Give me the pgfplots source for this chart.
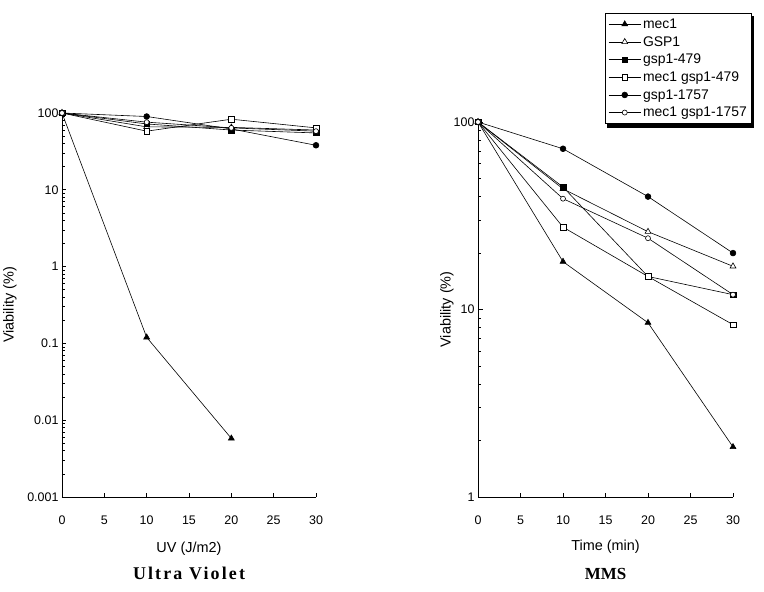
\documentclass[border=0pt]{standalone}
\usepackage{fontspec}
\setmainfont{Liberation Sans}
\newfontfamily\titlefont{Liberation Serif}
\newfontfamily\titlefontwide[LetterSpace=12]{Liberation Serif}
\usepackage{pgfplots}
\pgfplotsset{compat=1.18}

\pgfplotsset{
  legend image code/.code={
    \draw[mark repeat=2, mark phase=2, #1] plot coordinates {(0bp,0bp) (16bp,0bp) (32bp,0bp)};
  },
  viab/.style={
    scale only axis,
    axis lines=left,
    axis line style={-, line width=0.9bp},
    tick style={black, line width=0.7bp},
    tick align=inside,
    major tick length=4.5bp,
    minor tick length=3bp,
    xmin=0, xmax=30,
    xtick={0,5,...,30},
    /pgf/number format/assume math mode=true,
    tick label style={font=\fontsize{12.5}{14}\selectfont},
    xticklabel style={yshift=-15bp},
    label style={font=\fontsize{14.5}{16}\selectfont},
    ylabel={Viability (\%)},
    every axis plot/.append style={black, line width=0.6bp},
  },
  s1/.style={mark=triangle*, mark size=3.4bp, mark options={fill=black, solid}},
  s2/.style={mark=triangle*, mark size=3.4bp, mark options={fill=white, solid}},
  s3/.style={mark=square*, mark size=2.8bp, mark options={fill=black, solid}},
  s4/.style={mark=square*, mark size=2.8bp, mark options={fill=white, solid}},
  s5/.style={mark=*, mark size=2.9bp, mark options={fill=black, solid}},
  s6/.style={mark=*, mark size=2.5bp, mark options={fill=white, solid}},
}

\begin{document}
\begin{tikzpicture}
\useasboundingbox (0,0) rectangle (764bp,592bp);

% UV panel
\begin{semilogyaxis}[
  viab,
  at={(62bp,95bp)}, anchor=south west,
  width=254bp, height=384bp,
  ymin=0.001, ymax=100,
  ytick={0.001,0.01,0.1,1,10,100},
  yticklabels={0.001,0.01,0.1,1,10,100},
  minor ytick={0.002,0.003,0.004,0.005,0.006,0.007,0.008,0.009,
               0.02,0.03,0.04,0.05,0.06,0.07,0.08,0.09,
               0.2,0.3,0.4,0.5,0.6,0.7,0.8,0.9,
               2,3,4,5,6,7,8,9,20,30,40,50,60,70,80,90},
  xlabel={UV (J/m2)},
  xlabel style={at={(axis description cs:0.5,-0.135)}, anchor=center},
  ylabel style={at={(axis description cs:-0.205,0.5)}, anchor=center},
  title={\titlefontwide\bfseries Ultra Violet},
  title style={at={(axis description cs:0.5,-0.214)}, anchor=center, font=\fontsize{18}{20}\selectfont},
  clip=false,
]
\addplot[s1] coordinates {(0,100) (10,0.12) (20,0.0058)};
\addplot[s2] coordinates {(0,100) (10,66) (20,65) (30,60)};
\addplot[s3] coordinates {(0,100) (10,72) (20,60) (30,55)};
\addplot[s4] coordinates {(0,100) (10,58) (20,83) (30,64)};
\addplot[s5] coordinates {(0,100) (10,90) (20,62) (30,38)};
\addplot[s6] coordinates {(0,100) (10,76) (20,64) (30,58)};
\end{semilogyaxis}

% MMS panel
\begin{semilogyaxis}[
  viab,
  at={(478bp,95bp)}, anchor=south west,
  width=255bp, height=375bp,
  ymin=1, ymax=100,
  ytick={1,10,100},
  yticklabels={1,10,100},
  minor ytick={2,3,4,5,6,7,8,9,20,30,40,50,60,70,80,90},
  xlabel={Time (min)},
  xlabel style={at={(axis description cs:0.5,-0.133)}, anchor=center},
  ylabel style={at={(axis description cs:-0.122,0.5)}, anchor=center},
  title={\titlefont\bfseries MMS},
  title style={at={(axis description cs:0.5,-0.220)}, anchor=center, font=\fontsize{17}{19}\selectfont},
  clip=false,
  legend cell align=left,
  legend style={
    name=leg,
    at={(axis description cs:0.498,1.29)}, anchor=north west,
    draw=black, line width=0.9bp, fill=white,
    font=\fontsize{14}{15}\selectfont,
    row sep=2.5bp, inner xsep=3bp, inner ysep=3bp,
    /tikz/every even column/.append style={column sep=1bp},
  },
]
\addplot[s1] coordinates {(0,100) (10,18) (20,8.5) (30,1.85)};
\addlegendentry{mec1}
\addplot[s2] coordinates {(0,100) (10,44) (20,26) (30,17)};
\addlegendentry{GSP1}
\addplot[s3] coordinates {(0,100) (10,45) (20,15) (30,12)};
\addlegendentry{gsp1-479}
\addplot[s4] coordinates {(0,100) (10,27.5) (20,15) (30,8.3)};
\addlegendentry{mec1 gsp1-479}
\addplot[s5] coordinates {(0,100) (10,72) (20,40) (30,20)};
\addlegendentry{gsp1-1757}
\addplot[s6] coordinates {(0,100) (10,39) (20,24) (30,12)};
\addlegendentry{mec1 gsp1-1757}
\end{semilogyaxis}

% legend drop shadow
\fill[black] ([xshift=2bp]leg.south west) rectangle ([xshift=2bp, yshift=-4bp]leg.south east);
\fill[black] ([yshift=-4bp]leg.south east) rectangle ([xshift=2bp, yshift=-3bp]leg.north east);
\end{tikzpicture}
\end{document}
